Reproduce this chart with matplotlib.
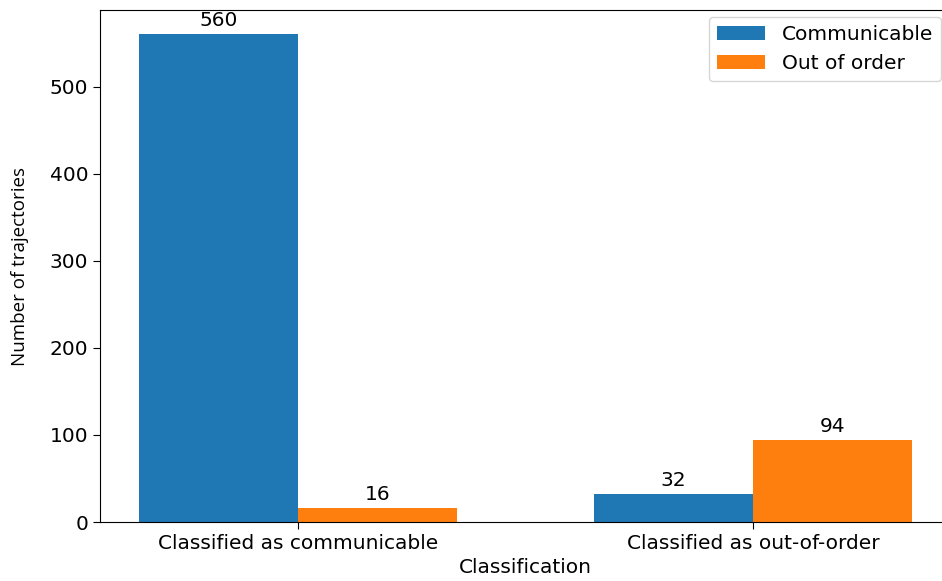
import numpy as np
import matplotlib.pyplot as plt

categories = ["Classified as communicable", "Classified as out-of-order"]
communicable = [560, 32]
out_of_order = [16, 94]
series_names = ["Communicable", "Out of order"]

plt.rcParams['font.family'] = 'DejaVu Sans'
plt.rcParams['font.size'] = 14.5

x = np.arange(len(categories))
width = 0.35

fig = plt.figure(figsize=(9.42, 5.81), dpi=100)
ax = fig.add_axes([100/942, 1 - 522/581, 851/942, 512/581])

b1 = ax.bar(x - width/2, communicable, width, label=series_names[0], color='#1f77b4')
b2 = ax.bar(x + width/2, out_of_order, width, label=series_names[1], color='#ff7f0e')
ax.bar_label(b1, padding=3)
ax.bar_label(b2, padding=3)

ax.set_xticks(x)
ax.set_xticklabels(categories)
ax.tick_params(length=5)
ax.set_xlabel("Classification", labelpad=4)
ax.set_ylabel("Number of trajectories", family='Open Sans', fontsize=13.5, labelpad=15)

ax.legend(loc='upper right', bbox_to_anchor=(941/942, 1 - 17/581), bbox_transform=fig.transFigure,
          handlelength=2.4, borderaxespad=0)

fig.savefig('out.png', dpi=100)
